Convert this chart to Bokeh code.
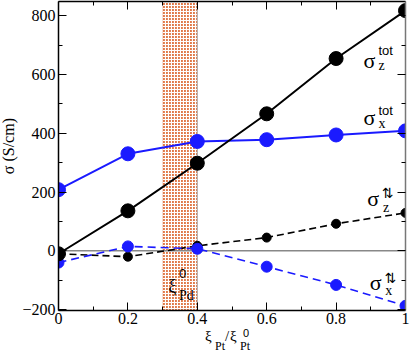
import numpy as np
from bokeh.plotting import figure
from bokeh.layouts import column, row
from bokeh.models import Range1d, LinearAxis, FixedTicker, Span, BoxAnnotation, Label, Div
from bokeh.embed import file_html
from bokeh.resources import INLINE

# ---- data ----
xi = [0.0, 0.2, 0.4, 0.6, 0.8, 1.0]
sz_tot = [-10, 136, 298, 466, 654, 817]
sx_tot = [208, 330, 372, 378, 394, 408]
sz_spin = [-10, -20, 17, 45, 92, 129]
sx_spin = [-40, 15, 7, -54, -116, -187]
x_ticks = [0.0, 0.2, 0.4, 0.6, 0.8, 1.0]
x_tick_labels = ["0", "0.2", "0.4", "0.6", "0.8", "1"]
x_minor = [0.1, 0.3, 0.5, 0.7, 0.9]
y_ticks = [-200, 0, 200, 400, 600, 800]
y_minor = [-100, 100, 300, 500, 700]
region_left, region_right = 0.3, 0.4

FONT = "Liberation Serif"
SANS = "Liberation Sans"
BLUE = "#1a1aff"

YT_W = 19
p = figure(width=411 - YT_W, height=328, x_range=Range1d(0, 1), y_range=Range1d(-203, 848),
           output_backend="svg", toolbar_location=None,
           min_border_left=57 - YT_W, min_border_right=6, min_border_top=1, min_border_bottom=18,
           x_axis_location=None, y_axis_location=None)
p.outline_line_color = None
p.xgrid.visible = False
p.ygrid.visible = False

def style_axis(ax, show_labels, line_color="black"):
    ax.major_tick_in = 8
    ax.major_tick_out = 0
    ax.minor_tick_in = 4
    ax.minor_tick_out = 0
    ax.axis_line_color = line_color
    ax.axis_line_width = 1.5
    ax.major_tick_line_width = 1
    ax.minor_tick_line_width = 1
    ax.major_label_text_font = FONT
    ax.major_label_text_font_size = "16px" if show_labels else "1px"
    ax.major_label_text_color = "black"
    ax.major_label_standoff = 3 if show_labels else 0

xt = FixedTicker(ticks=x_ticks, minor_ticks=x_minor)
yt = FixedTicker(ticks=y_ticks, minor_ticks=y_minor)

bx = LinearAxis(ticker=xt); style_axis(bx, True)
bx.major_label_overrides = {t: l for t, l in zip(x_ticks, x_tick_labels)}
bx.major_label_standoff = 2
tx = LinearAxis(ticker=xt); style_axis(tx, False)
tx.major_label_overrides = {t: "" for t in x_ticks}
ly = LinearAxis(ticker=yt); style_axis(ly, True)
ry = LinearAxis(ticker=yt); style_axis(ry, False, "#777777")
ry.major_label_overrides = {t: "" for t in y_ticks}
p.add_layout(bx, "below")
p.add_layout(tx, "above")
p.add_layout(ly, "left")
p.add_layout(ry, "right")

# shaded region: orange squares separated by thin white lines
box = BoxAnnotation(left=region_left, right=region_right, fill_color="#e07a4a", fill_alpha=1,
                    line_alpha=0, hatch_pattern="cross", hatch_color="white", hatch_scale=3,
                    hatch_weight=1.2, level="underlay")
p.add_layout(box)
p.add_layout(Span(location=0, dimension="width", line_color="#888888", line_width=1.5, level="underlay"))
p.add_layout(Span(location=region_right, dimension="height", line_color="#aaaaaa", line_width=1, level="underlay"))

# series
p.line(xi, sz_spin, line_color="black", line_width=1.6, line_dash="7 4")
p.scatter(xi, sz_spin, size=9, color="black")
p.line(xi, sx_spin, line_color=BLUE, line_width=1.6, line_dash="8 5")
p.scatter(xi, sx_spin, size=11, color=BLUE)
p.line(xi, sx_tot, line_color=BLUE, line_width=2)
p.scatter(xi, sx_tot, size=14, color=BLUE)
p.line(xi, sz_tot, line_color="black", line_width=2)
p.scatter(xi, sz_tot, size=14, color="black")

def lab(x, y, t, size, font=FONT):
    p.add_layout(Label(x=x, y=y, text=t, text_font=font, text_font_size=size,
                       text_color="black", text_baseline="alphabetic"))

# curve labels
lab(0.879, 647, "σ", "22px"); lab(0.922, 681, "tot", "13px", SANS); lab(0.922, 630, "z", "14px")
lab(0.879, 453, "σ", "22px"); lab(0.922, 477, "tot", "13px", SANS); lab(0.922, 433, "x", "14px")
lab(0.890, 178, "σ", "22px"); lab(0.932, 196, "⇅", "14px", "DejaVu Sans"); lab(0.935, 147, "z", "14px")
lab(0.897, -108, "σ", "22px"); lab(0.940, -93, "⇅", "14px", "DejaVu Sans"); lab(0.942, -135, "x", "14px")
# region label
lab(0.316, -118, "ξ", "18px"); lab(0.347, -76, "0", "13px", SANS); lab(0.347, -152, "Pd", "14px")

# y-axis title (rotated)
ytitle = Div(text=(
    f'<div style="position:relative;width:{YT_W}px;height:328px;">'
    '<span style="position:absolute;left:0px;top:118px;writing-mode:vertical-rl;'
    'transform:rotate(180deg);font-family:\'Liberation Serif\';font-size:16px;'
    'line-height:18px;color:black;white-space:nowrap;">σ (S/cm)</span></div>'),
    width=YT_W, height=328, margin=0, styles={"overflow": "visible"})

# x-axis title with sub/superscripts
span = "position:absolute;line-height:1;font-family:'Liberation Serif';color:black;white-space:nowrap;"
html = (
    f'<div style="position:relative;width:411px;height:27px;">'
    f'<span style="{span}left:205px;top:1px;font-size:15px;">ξ</span>'
    f'<span style="{span}left:215px;top:12px;font-size:12px;">Pt</span>'
    f'<span style="{span}left:225px;top:1px;font-size:15px;">/</span>'
    f'<span style="{span}left:230px;top:1px;font-size:15px;">ξ</span>'
    f'<span style="{span}left:243px;top:0px;font-size:11px;font-family:\'Liberation Sans\';">0</span>'
    f'<span style="{span}left:240px;top:12px;font-size:12px;">Pt</span>'
    f'</div>'
)
xtitle = Div(text=html, width=411, height=27, margin=0)

layout = column(row(ytitle, p, spacing=0), xtitle, spacing=0)
open("out.html", "w").write(file_html(layout, INLINE))
